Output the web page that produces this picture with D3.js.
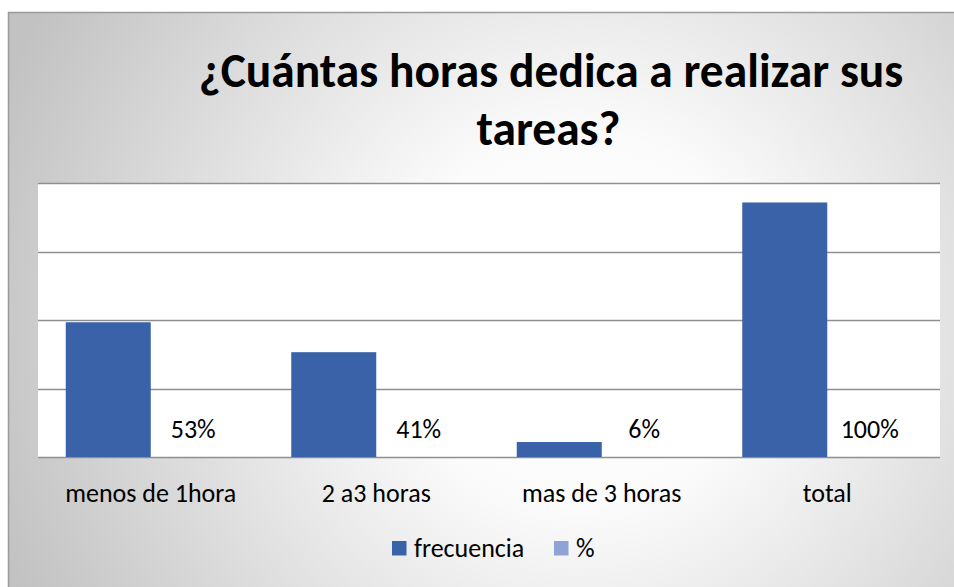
<!DOCTYPE html>
<html>
<head>
<meta charset="utf-8">
<script src="https://cdn.jsdelivr.net/npm/d3@7"></script>
<style>
  html, body { margin: 0; padding: 0; background: #ffffff; }
  svg { display: block; }
  text { font-family: Carlito, Lato, "Liberation Sans", sans-serif; }
</style>
</head>
<body>
<svg id="chart" width="954" height="587"></svg>
<script>
// ---- data ----
const categories = ["menos de 1hora", "2 a3 horas", "mas de 3 horas", "total"];
const frecuencia = [9, 7, 1, 17];
const porcentajeLabels = ["53%", "41%", "6%", "100%"];
const porcentajeBars = [0, 0, 0, 0]; // % column stored as text -> plotted as zero
const seriesNames = ["frecuencia", "%"];
const yTicks = [0, 4.575, 9.15, 13.725, 18.3];
const titleLines = ["¿Cuántas horas dedica a realizar sus", "tareas?"];

// ---- layout ----
const plot = { left: 38, right: 940, top: 183, bottom: 457 };
const colors = { frecuencia: "#3A62A8", pct: "#8FA3D4" };

const svg = d3.select("#chart");
const defs = svg.append("defs");
const grad = defs.append("radialGradient")
  .attr("id", "bg").attr("gradientUnits", "userSpaceOnUse")
  .attr("cx", 580).attr("cy", 320).attr("r", 620);
grad.append("stop").attr("offset", "0").attr("stop-color", "#ffffff");
grad.append("stop").attr("offset", "0.3").attr("stop-color", "#fbfbfb");
grad.append("stop").attr("offset", "1").attr("stop-color", "#c2c2c2");

svg.append("rect").attr("x", 8.5).attr("y", 12.5).attr("width", 960).attr("height", 600)
  .attr("fill", "url(#bg)").attr("stroke", "#9a9a9a").attr("stroke-width", 1.5);

// plot area
svg.append("rect").attr("x", plot.left).attr("y", plot.top)
  .attr("width", plot.right - plot.left).attr("height", plot.bottom - plot.top)
  .attr("fill", "#ffffff");

const x0 = d3.scaleBand().domain(categories).range([plot.left, plot.right]).padding(0);
const x1 = d3.scaleBand().domain(seriesNames).range([0, x0.bandwidth()])
  .paddingInner(0).paddingOuter(0.3265);
const y = d3.scaleLinear().domain([0, yTicks[yTicks.length - 1]]).range([plot.bottom, plot.top]);

// gridlines
svg.append("g").selectAll("line").data(yTicks).join("line")
  .attr("x1", plot.left).attr("x2", plot.right)
  .attr("y1", d => Math.round(y(d)) + 0.5).attr("y2", d => Math.round(y(d)) + 0.5)
  .attr("stroke", "#8f8f8f").attr("stroke-width", 1.3);

// frecuencia bars
svg.append("g").selectAll("rect").data(frecuencia).join("rect")
  .attr("x", (d, i) => x0(categories[i]) + x1("frecuencia"))
  .attr("width", x1.bandwidth())
  .attr("y", d => y(d))
  .attr("height", d => y(0) - y(d))
  .attr("fill", colors.frecuencia);

// % bars (zero height) and labels
svg.append("g").selectAll("rect").data(porcentajeBars).join("rect")
  .attr("x", (d, i) => x0(categories[i]) + x1("%"))
  .attr("width", x1.bandwidth())
  .attr("y", d => y(d))
  .attr("height", d => y(0) - y(d))
  .attr("fill", colors.pct);

svg.append("g").selectAll("text").data(porcentajeLabels).join("text")
  .attr("x", (d, i) => x0(categories[i]) + x1("%") + x1.bandwidth() / 2)
  .attr("y", (d, i) => y(porcentajeBars[i]) - 19)
  .attr("text-anchor", "middle")
  .attr("font-size", 26).attr("fill", "#000")
  .text(d => d);

// category labels
svg.append("g").selectAll("text").data(categories).join("text")
  .attr("x", d => x0(d) + x0.bandwidth() / 2)
  .attr("y", 502)
  .attr("text-anchor", "middle")
  .attr("font-size", 26).attr("fill", "#000")
  .text(d => d);

// title
svg.append("g").selectAll("text").data(titleLines).join("text")
  .attr("x", (d, i) => i === 0 ? 551 : 548.5)
  .attr("y", (d, i) => 87 + i * 58)
  .attr("text-anchor", "middle")
  .attr("font-size", 47.5).attr("font-weight", "bold").attr("fill", "#000")
  .text(d => d);

// legend
const legendItems = [
  { name: seriesNames[0], color: colors.frecuencia, x: 392 },
  { name: seriesNames[1], color: colors.pct, x: 554 }
];
const lg = svg.append("g").selectAll("g").data(legendItems).join("g")
  .attr("transform", d => `translate(${d.x},541)`);
lg.append("rect").attr("width", 14.5).attr("height", 14.5).attr("fill", d => d.color);
lg.append("text").attr("x", 22).attr("y", 16)
  .attr("font-size", 26).attr("fill", "#000").text(d => d.name);
</script>
</body>
</html>
